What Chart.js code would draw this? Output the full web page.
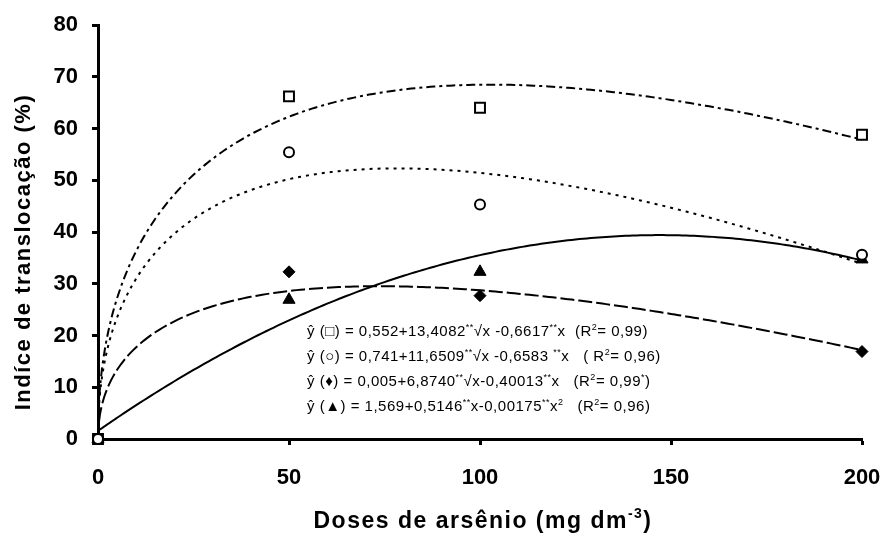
<!DOCTYPE html>
<html>
<head>
<meta charset="utf-8">
<script src="https://cdn.jsdelivr.net/npm/chart.js@4.4.1/dist/chart.umd.min.js"></script>
<style>
  html, body { margin: 0; padding: 0; background: #fff; }
</style>
</head>
<body>
<canvas id="translocacao" width="887" height="540"></canvas>
<script>
// doses de arsênio (mg dm-3) e médias observadas
const doses = [0, 50, 100, 200];
const quadrado = [0, 66.2, 64.0, 58.8];
const circulo = [0, 55.4, 45.3, 35.6];
const losango = [0, 32.3, 27.7, 16.9];
const triangulo = [0, 26.9, 32.3, 34.7];

// coeficientes das equações ajustadas
// raiz quadrada: y = a + b*sqrt(x) + c*x ; quadrática: y = a + b*x + c*x^2
const coefQuadrado = [0.552, 13.4082, -0.6617];
const coefCirculo = [0.741, 11.6509, -0.6583];
const coefLosango = [0.005, 6.8740, -0.40013];
const coefTriangulo = [1.569, 0.5146, -0.00175];

const yTicks = [0, 10, 20, 30, 40, 50, 60, 70, 80];
const xTicks = [0, 50, 100, 150, 200];

// abscissas onde as curvas ajustadas são traçadas (mais densas perto de zero)
const xCurva = [];
for (let d = 0; d < 5; d += 0.25) xCurva.push(d);
for (let d = 5; d <= 200; d += 1) xCurva.push(d);

const raiz = c => xCurva.map(x => ({ x, y: c[0] + c[1] * Math.sqrt(x) + c[2] * x }));
const quad = c => xCurva.map(x => ({ x, y: c[0] + c[1] * x + c[2] * x * x }));
const pontos = ys => doses.map((d, i) => ({ x: d, y: ys[i] }));

const fonte = 'Arial, "Liberation Sans", sans-serif';

function marcador(dados, estilo, raio, preenchido) {
  return {
    data: pontos(dados),
    showLine: false,
    pointStyle: estilo,
    pointRadius: raio,
    pointBackgroundColor: preenchido ? '#000' : '#fff',
    pointBorderColor: '#000',
    pointBorderWidth: preenchido ? 1 : 2,
    clip: false
  };
}

function curva(dados, tracejado) {
  return {
    data: dados,
    showLine: true,
    borderColor: '#000',
    borderWidth: 2,
    borderDash: tracejado,
    pointRadius: 0,
    tension: 0,
    fill: false,
    clip: false
  };
}

// equações e títulos dos eixos (com sobrescritos)
const equacoes = [
  [['ŷ (□) = 0,552+13,4082'], ['**', 1], ['√x -0,6617'], ['**', 1], ['x  (R'], ['2', 1], ['= 0,99)']],
  [['ŷ (○) = 0,741+11,6509'], ['**', 1], ['√x -0,6583 '], ['**', 1], ['x   ( R'], ['2', 1], ['= 0,96)']],
  [['ŷ (♦) = 0,005+6,8740'], ['**', 1], ['√x-0,40013'], ['**', 1], ['x   (R'], ['2', 1], ['= 0,99'], ['*', 1], [')']],
  [['ŷ (▲) = 1,569+0,5146'], ['**', 1], ['x-0,00175'], ['**', 1], ['x'], ['2', 1], ['   (R'], ['2', 1], ['= 0,96)']]
];

function escreve(ctx, partes, x, y, tam, peso, esp) {
  ctx.letterSpacing = esp + 'px';
  for (const [t, sup] of partes) {
    const s = sup ? Math.round(tam * 0.62) : tam;
    ctx.font = peso + ' ' + s + 'px ' + fonte;
    ctx.fillText(t, x, sup ? y - tam * 0.42 : y);
    x += ctx.measureText(t).width;
  }
  ctx.letterSpacing = '0px';
}

function largura(ctx, partes, tam, peso, esp) {
  ctx.letterSpacing = esp + 'px';
  let w = 0;
  for (const [t, sup] of partes) {
    ctx.font = peso + ' ' + (sup ? Math.round(tam * 0.62) : tam) + 'px ' + fonte;
    w += ctx.measureText(t).width;
  }
  ctx.letterSpacing = '0px';
  return w;
}

const textos = {
  id: 'textos',
  afterDraw(chart) {
    const ctx = chart.ctx;
    const area = chart.chartArea;
    ctx.save();
    ctx.fillStyle = '#000';
    ctx.textAlign = 'left';
    ctx.textBaseline = 'alphabetic';

    equacoes.forEach((linha, i) => {
      escreve(ctx, linha, area.left + 209, area.top + 311 + i * 25, 15, 'normal', 0.5);
    });

    // título do eixo x
    const tituloX = [['Doses de arsênio (mg dm'], ['-3', 1], [')']];
    const w = largura(ctx, tituloX, 23, 'bold', 1.5);
    escreve(ctx, tituloX, 483 - w / 2, 528, 23, 'bold', 1.5);

    // título do eixo y
    ctx.translate(30, (area.top + area.bottom) / 2 + 20);
    ctx.rotate(-Math.PI / 2);
    ctx.textAlign = 'center';
    ctx.letterSpacing = '1.5px';
    ctx.font = 'bold 22px ' + fonte;
    ctx.fillText('Indíce de translocação (%)', 0, 0);
    ctx.restore();
  }
};

const eixo = {
  color: '#000',
  font: { family: fonte, size: 22, weight: 'bold' }
};

new Chart(document.getElementById('translocacao').getContext('2d'), {
  type: 'scatter',
  data: {
    datasets: [
      marcador(circulo, 'circle', 5, false),
      marcador(quadrado, 'rect', 7, false),
      marcador(losango, 'rectRot', 6, true),
      marcador(triangulo, 'triangle', 7, true),
      curva(raiz(coefQuadrado), [9, 4, 3, 4]),
      curva(raiz(coefCirculo), [3, 5]),
      curva(raiz(coefLosango), [14, 4]),
      curva(quad(coefTriangulo), [])
    ]
  },
  options: {
    responsive: false,
    devicePixelRatio: 1,
    animation: false,
    layout: { padding: { top: 25, right: 25, left: 0, bottom: 0 } },
    plugins: {
      legend: { display: false },
      tooltip: { enabled: false }
    },
    scales: {
      x: {
        type: 'linear',
        min: 0,
        max: 200,
        afterBuildTicks: s => { s.ticks = xTicks.map(v => ({ value: v })); },
        afterFit: s => { s.height = 101; s.paddingLeft = 0; s.paddingRight = 0; },
        ticks: { ...eixo, padding: 20, maxRotation: 0 },
        grid: { drawOnChartArea: false, drawTicks: true, tickLength: 6, tickWidth: 3, tickColor: '#000' },
        border: { color: '#000', width: 3 }
      },
      y: {
        min: 0,
        max: 80,
        afterBuildTicks: s => { s.ticks = yTicks.map(v => ({ value: v })); },
        afterFit: s => { s.width = 98; s.paddingTop = 0; s.paddingBottom = 0; },
        ticks: { ...eixo, padding: 14 },
        grid: { drawOnChartArea: false, drawTicks: true, tickLength: 6, tickWidth: 3, tickColor: '#000' },
        border: { color: '#000', width: 3 }
      }
    }
  },
  plugins: [textos]
});
</script>
</body>
</html>
